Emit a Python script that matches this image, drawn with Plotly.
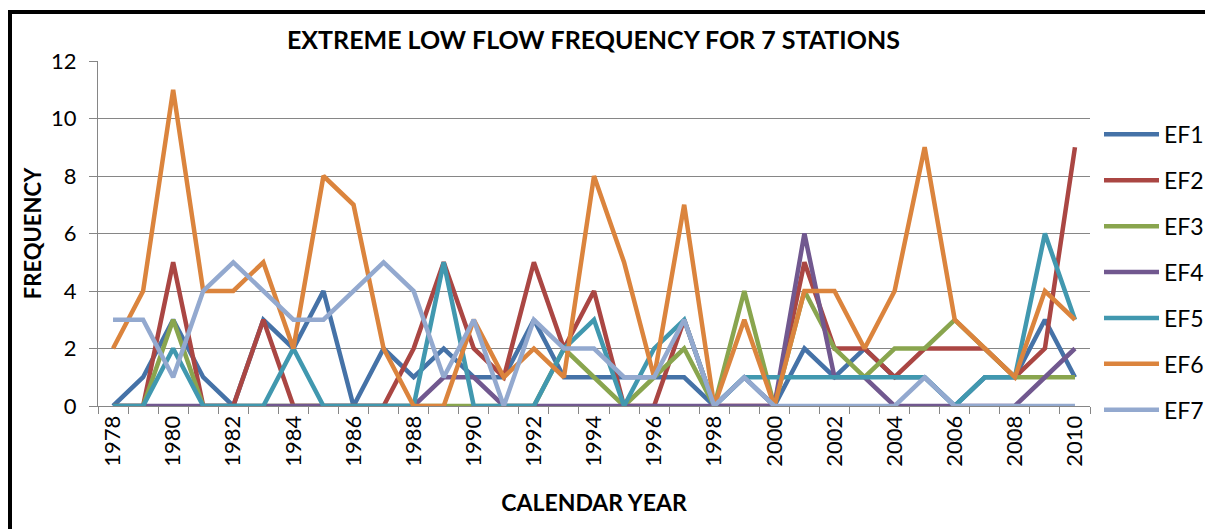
import plotly.graph_objects as go

years = list(range(1978, 2011))
EF1 = [0,1,3,1,0,3,2,4,0,2,1,2,1,1,3,1,1,1,1,1,0,1,0,2,1,2,1,1,0,1,1,3,1]
EF2 = [0,0,5,0,0,3,0,0,0,0,2,5,2,1,5,2,4,0,0,3,0,0,0,5,2,2,1,2,2,2,1,2,9]
EF3 = [0,0,3,0,0,0,0,0,0,0,0,0,0,0,0,2,1,0,1,2,0,4,0,4,2,1,2,2,3,2,1,1,1]
EF4 = [0,0,0,0,0,0,0,0,0,0,0,1,1,0,0,0,0,0,0,0,0,0,0,6,1,1,0,0,0,0,0,1,2]
EF5 = [0,0,2,0,0,0,2,0,0,0,0,5,0,0,0,2,3,0,2,3,0,1,1,1,1,1,1,1,0,1,1,6,3]
EF6 = [2,4,11,4,4,5,2,8,7,2,0,0,3,1,2,1,8,5,1,7,0,3,0,4,4,2,4,9,3,2,1,4,3]
EF7 = [3,3,1,4,5,4,3,3,4,5,4,1,3,0,3,2,2,1,1,3,0,1,0,0,0,0,0,1,0,0,0,0,0]

series_names = ["EF1", "EF2", "EF3", "EF4", "EF5", "EF6", "EF7"]
series_values = [EF1, EF2, EF3, EF4, EF5, EF6, EF7]
colors = ["#4572A7", "#AA4643", "#89A54E", "#71588F", "#4198AF", "#DB843D", "#93A9CF"]
x_tick_labels = [str(y) for y in range(1978, 2011, 2)]

FONT = "Lato"
fig = go.Figure()
for name, vals, col in zip(series_names, series_values, colors):
    fig.add_trace(go.Scatter(x=years, y=vals, name=name, mode="lines",
                             line=dict(color=col, width=4.5),
                             legendgroup=name))

fig.update_layout(
    width=1205, height=529,
    margin=dict(l=98, r=115, t=61, b=123, autoexpand=False),
    paper_bgcolor="white", plot_bgcolor="white",
    font=dict(family=FONT, color="black", size=22),
    showlegend=True,
    title=dict(text="<b>EXTREME LOW FLOW FREQUENCY FOR 7 STATIONS</b>",
               x=0.4925, xanchor="center", y=1 - 40 / 529, yanchor="middle",
               font=dict(size=25, family=FONT)),
    legend=dict(x=1.0 + 9 / 992, xanchor="left", y=1 - (135 - 61) / 345 + 0.064, yanchor="top",
                font=dict(size=23, family=FONT), itemwidth=55,
                traceorder="grouped", tracegroupgap=13, bgcolor="rgba(0,0,0,0)"),
    xaxis=dict(range=[1977.5, 2010.5], tickmode="array",
               tickvals=[int(t) for t in x_tick_labels], ticktext=x_tick_labels,
               tickangle=-90, ticks="", showgrid=False, zeroline=False,
               showline=True, linecolor="#868686", linewidth=1,
               tickfont=dict(size=22, family=FONT),
               minor=dict(tick0=1977.5, dtick=1, ticks="outside", ticklen=7,
                          tickcolor="#868686", showgrid=False),
               title=dict(text="<b>CALENDAR YEAR</b>", font=dict(size=23, family=FONT),
                          standoff=29)),
    yaxis=dict(range=[0, 12], dtick=2, showgrid=True, gridcolor="#868686", gridwidth=1,
               zeroline=False, showline=True, linecolor="#868686", linewidth=1,
               ticks="outside", ticklen=8, tickcolor="#868686",
               tickfont=dict(size=22, family=FONT), ticklabelstandoff=8,
               title=dict(text="<b>FREQUENCY</b>", font=dict(size=22, family=FONT),
                          standoff=3)),
)

# outer chart border (extends past right/bottom edges like the reference)
fig.add_shape(type="rect", xref="paper", yref="paper",
              x0=(10 - 98) / 992, x1=(1230 - 98) / 992,
              y0=(406 - 545) / 345, y1=(406 - 12) / 345,
              line=dict(color="black", width=4), fillcolor="rgba(0,0,0,0)", layer="above")

fig.write_html("out.html")
